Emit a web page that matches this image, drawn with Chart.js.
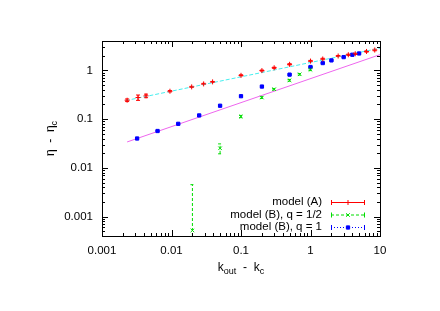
<!DOCTYPE html>
<html lang="en">
<head>
<meta charset="UTF-8">
<title>eta - eta_c vs k_out - k_c</title>
<script src="https://cdn.jsdelivr.net/npm/chart.js"></script>
<style>
  html, body { margin: 0; padding: 0; background: #fff; }
  #wrap { width: 440px; height: 311px; }
</style>
</head>
<body>
<div id="wrap"><canvas id="fitChart" width="440" height="311"></canvas></div>
<script>
// model (A)
const aK   = [0.0023, 0.0033, 0.0043, 0.0095, 0.0195, 0.029, 0.039, 0.1, 0.2, 0.3, 0.5, 1.0, 1.5, 2.5, 3.5, 4.4, 6.4, 8.4];
const aEta = [0.244, 0.277, 0.30, 0.373, 0.458, 0.527, 0.58, 0.79, 0.99, 1.13, 1.33, 1.55, 1.71, 1.97, 2.09, 2.19, 2.44, 2.61];
const aErr = [0.015, 0.035, 0.025, 0.012, 0.012, 0.015, 0.012, 0.02, 0.025, 0.03, 0.04, 0.05, 0.06, 0.05, 0.06, 0.07, 0.08, 0.09];

// model (B), q = 1/2
const hK   = [0.02, 0.05, 0.1, 0.2, 0.3, 0.5, 0.7, 1.0];
const hEta = [0.00052, 0.0252, 0.113, 0.277, 0.41, 0.625, 0.83, 1.03];
const hErr = [0.004, 0.0058, 0.006, 0.012, 0.015, 0.025, 0.03, 0.04];

// model (B), q = 1
const bK   = [0.0032, 0.0063, 0.0125, 0.025, 0.05, 0.1, 0.2, 0.5, 1.0, 1.5, 2.0, 3.0, 4.0, 5.0];
const bEta = [0.04, 0.057, 0.08, 0.119, 0.188, 0.295, 0.465, 0.817, 1.17, 1.41, 1.6, 1.87, 2.09, 2.22];
const bErr = [0.001, 0.0015, 0.002, 0.003, 0.005, 0.008, 0.012, 0.02, 0.03, 0.035, 0.04, 0.045, 0.05, 0.05];

// fitted power laws (end points)
const fitAK   = [0.0022, 10];
const fitAEta = [0.24, 2.85];
const fitBK   = [0.0023, 10];
const fitBEta = [0.034, 2.1];

const xTicks = [0.001, 0.01, 0.1, 1, 10];
const xTickLabels = ['0.001', '0.01', '0.1', '1', '10'];
const yTicks = [0.001, 0.01, 0.1, 1];
const yTickLabels = ['0.001', '0.01', '0.1', '1'];

const FONT = '"Liberation Sans", Arial, sans-serif';

function pts(xs, ys) {
  return xs.map(function (x, i) { return { x: x, y: ys[i] }; });
}

const series = [
  { label: 'model (A)',          color: '#ff0000', dash: [],     style: 'cross',    err: aErr },
  { label: 'model (B), q = 1/2', color: '#00dd00', dash: [3, 2], style: 'crossRot', err: hErr },
  { label: 'model (B), q = 1',   color: '#0000ff', dash: [1, 2], style: 'rect',     err: bErr }
];

function markRadius(s) { return s.style === 'rect' ? 2.3 : 2.5; }

// vertical error bars with caps
const errorBars = {
  id: 'errorBars',
  beforeDatasetsDraw(chart) {
    const ctx = chart.ctx, ca = chart.chartArea;
    const xs = chart.scales.x, ys = chart.scales.y;
    ctx.save();
    ctx.beginPath();
    ctx.rect(ca.left, ca.top, ca.right - ca.left, ca.bottom - ca.top);
    ctx.clip();
    chart.data.datasets.forEach(function (ds) {
      if (!ds.errY) return;
      ctx.strokeStyle = ds.borderColor;
      ctx.lineWidth = 1;
      ctx.setLineDash(ds.errDash);
      ds.data.forEach(function (p, i) {
        const e = ds.errY[i];
        const px = xs.getPixelForValue(p.x);
        const lo = p.y - e > 0 ? ys.getPixelForValue(p.y - e) : ca.bottom + 5;
        const hi = ys.getPixelForValue(p.y + e);
        ctx.beginPath();
        ctx.moveTo(px, lo); ctx.lineTo(px, hi);
        ctx.moveTo(px - 2, lo); ctx.lineTo(px + 2, lo);
        ctx.moveTo(px - 2, hi); ctx.lineTo(px + 2, hi);
        ctx.stroke();
      });
    });
    ctx.restore();
  }
};

// frame, inward mirror ticks, axis titles and key
const frame = {
  id: 'frame',
  afterDraw(chart) {
    const ctx = chart.ctx, ca = chart.chartArea;
    const xs = chart.scales.x, ys = chart.scales.y;
    ctx.save();
    ctx.strokeStyle = '#000';
    ctx.lineWidth = 1;
    ctx.setLineDash([]);
    ctx.strokeRect(Math.round(ca.left) + 0.5, Math.round(ca.top) + 0.5,
      Math.round(ca.right - ca.left), Math.round(ca.bottom - ca.top));

    ctx.beginPath();
    for (let d = -3; d <= 1; d++) {
      for (let m = 1; m <= 9; m++) {
        const v = m * Math.pow(10, d);
        if (v < 0.001 || v > 10) continue;
        const len = m === 1 ? 6 : 3;
        const px = Math.round(xs.getPixelForValue(v)) + 0.5;
        ctx.moveTo(px, ca.bottom); ctx.lineTo(px, ca.bottom - len);
        ctx.moveTo(px, ca.top); ctx.lineTo(px, ca.top + len);
      }
    }
    for (let d = -4; d <= 0; d++) {
      for (let m = 1; m <= 9; m++) {
        const v = m * Math.pow(10, d);
        if (v < 0.0004 || v > 4) continue;
        const len = m === 1 ? 6 : 3;
        const py = Math.round(ys.getPixelForValue(v)) + 0.5;
        ctx.moveTo(ca.left, py); ctx.lineTo(ca.left + len, py);
        ctx.moveTo(ca.right, py); ctx.lineTo(ca.right - len, py);
      }
    }
    ctx.stroke();

    // axis titles
    ctx.fillStyle = '#000';
    ctx.textBaseline = 'alphabetic';
    ctx.textAlign = 'left';
    const big = '12px ' + FONT, small = '9px ' + FONT;
    function withSub(parts, x, y) {
      let cx = x;
      parts.forEach(function (p) {
        ctx.font = p[1] ? small : big;
        ctx.fillText(p[0], cx, y + (p[1] ? 3 : 0));
        cx += ctx.measureText(p[0]).width;
      });
    }
    function width(parts) {
      let w = 0;
      parts.forEach(function (p) { ctx.font = p[1] ? small : big; w += ctx.measureText(p[0]).width; });
      return w;
    }
    const xt = [['k', false], ['out', true], ['  -  k', false], ['c', true]];
    withSub(xt, (ca.left + ca.right) / 2 - width(xt) / 2, 271);
    const yt = [['\u03b7  -  \u03b7', false], ['c', true]];
    ctx.save();
    ctx.translate(54, (ca.top + ca.bottom) / 2);
    ctx.rotate(-Math.PI / 2);
    withSub(yt, -width(yt) / 2, 0);
    ctx.restore();

    // key
    const keyRows = [202, 214.5, 227];
    series.forEach(function (s, i) {
      const y = keyRows[i];
      ctx.font = '11.5px ' + FONT;
      ctx.textAlign = 'right';
      ctx.textBaseline = 'middle';
      ctx.fillStyle = '#000';
      ctx.fillText(s.label, 322, y);
      ctx.strokeStyle = s.color;
      ctx.fillStyle = s.color;
      ctx.lineWidth = 1;
      ctx.setLineDash(s.dash);
      ctx.beginPath();
      ctx.moveTo(331, y + 0.5); ctx.lineTo(365, y + 0.5);
      ctx.stroke();
      ctx.setLineDash([]);
      ctx.beginPath();
      ctx.moveTo(331.5, y - 2); ctx.lineTo(331.5, y + 3);
      ctx.moveTo(364.5, y - 2); ctx.lineTo(364.5, y + 3);
      ctx.stroke();
      Chart.helpers.drawPoint(ctx, { pointStyle: s.style, radius: markRadius(s), borderWidth: 1 }, 348, y + 0.5);
    });
    ctx.restore();
  }
};

function pointSet(s, xs, ys) {
  return {
    label: s.label,
    data: pts(xs, ys),
    showLine: false,
    borderColor: s.color,
    backgroundColor: s.color,
    pointStyle: s.style,
    pointRadius: markRadius(s),
    borderWidth: 1,
    errY: s.err,
    errDash: s.dash
  };
}

new Chart(document.getElementById('fitChart'), {
  type: 'scatter',
  data: {
    datasets: [
      pointSet(series[0], aK, aEta),
      pointSet(series[1], hK, hEta),
      pointSet(series[2], bK, bEta),
      {
        label: 'fit A',
        data: pts(fitAK, fitAEta),
        showLine: true,
        borderColor: '#44eeee',
        borderWidth: 1,
        borderDash: [4, 2],
        pointRadius: 0
      },
      {
        label: 'fit B',
        data: pts(fitBK, fitBEta),
        showLine: true,
        borderColor: '#ee66ee',
        borderWidth: 1,
        pointRadius: 0
      }
    ]
  },
  options: {
    responsive: false,
    animation: false,
    events: [],
    layout: { padding: { left: 57, right: 60, top: 41, bottom: 35 } },
    plugins: { legend: { display: false }, tooltip: { enabled: false } },
    scales: {
      x: {
        type: 'logarithmic',
        min: 0.001,
        max: 10,
        grid: { display: false, drawTicks: false },
        border: { display: false },
        afterBuildTicks(scale) { scale.ticks = xTicks.map(function (v) { return { value: v }; }); },
        afterFit(scale) { scale.height = 40; },
        ticks: {
          autoSkip: false,
          maxRotation: 0,
          padding: 8,
          color: '#000',
          font: { family: FONT, size: 11.5 },
          callback(v, i) { return xTickLabels[i]; }
        }
      },
      y: {
        type: 'logarithmic',
        min: 0.0004,
        max: 4,
        grid: { display: false, drawTicks: false },
        border: { display: false },
        afterBuildTicks(scale) { scale.ticks = yTicks.map(function (v) { return { value: v }; }); },
        afterFit(scale) { scale.width = 45; },
        ticks: {
          autoSkip: false,
          padding: 9,
          color: '#000',
          font: { family: FONT, size: 11.5 },
          callback(v, i) { return yTickLabels[i]; }
        }
      }
    }
  },
  plugins: [errorBars, frame]
});
</script>
</body>
</html>
